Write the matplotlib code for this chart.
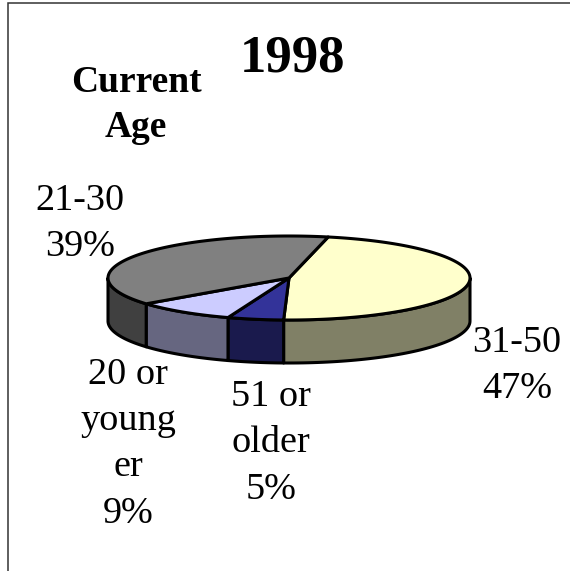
import numpy as np
import matplotlib
matplotlib.use("Agg")
import matplotlib.pyplot as plt

title = "1998"
subtitle = "Current\nAge"
categories = ["31-50", "51 or\nolder", "20 or\nyoung\ner", "21-30"]
percents = [47, 5, 9, 39]
top_colors = ["#FFFFCC", "#333399", "#CCCCFF", "#808080"]
side_colors = ["#808066", "#1A1A4D", "#666680", "#404040"]

W, H = 570, 571
plt.rcParams["font.family"] = ["Liberation Serif", "DejaVu Serif"]
fig = plt.figure(figsize=(W / 100, H / 100), dpi=100)
ax = fig.add_axes([0, 0, 1, 1])
ax.set_xlim(0, W)
ax.set_ylim(H, 0)
ax.axis("off")

cx, cy, a, b, depth = 289, 278, 181, 42, 43
start_deg = 12.5
lw = 2.2


def ell(theta):
    """Clockwise angle from the top, in degrees, to ellipse coordinates."""
    t = np.radians(theta)
    return cx + a * np.sin(t), cy - b * np.cos(t)


edges = start_deg + np.concatenate([[0], np.cumsum(percents)]) * 360 / sum(percents)

# Visible rim: the front half of the ellipse (90..270 degrees clockwise from top)
for i in range(len(percents)):
    lo, hi = max(edges[i], 90), min(edges[i + 1], 270)
    if hi <= lo:
        continue
    th = np.linspace(lo, hi, 60)
    x, y = ell(th)
    ax.fill(np.r_[x, x[::-1]], np.r_[y, (y + depth)[::-1]],
            facecolor=side_colors[i], edgecolor="black", lw=lw, joinstyle="round", zorder=2)

# Top faces
for i in range(len(percents)):
    th = np.linspace(edges[i], edges[i + 1], 120)
    x, y = ell(th)
    ax.fill(np.r_[cx, x], np.r_[cy, y], facecolor=top_colors[i],
            edgecolor="black", lw=lw, joinstyle="round", zorder=3)

# Frame (left and top edges reach the image border)
ax.plot([8, 8, W], [H, 2.5, 2.5], color="#333333", lw=1.1, zorder=1, solid_joinstyle="miter")

ax.text(292.5, 59, title, fontsize=38, fontweight="bold", ha="center", va="center")
ax.text(136, 105, subtitle, fontsize=27, fontweight="bold", ha="center", va="center",
        linespacing=1.36)

label_pos = [(517, 366), (271, 443), (128, 444), (80, 224)]
for cat, pct, (lx, ly) in zip(categories, percents, label_pos):
    ax.text(lx, ly, f"{cat}\n{pct}%", fontsize=27.5, ha="center", va="center", linespacing=1.45)

fig.savefig("out.png", dpi=100, facecolor="white")
